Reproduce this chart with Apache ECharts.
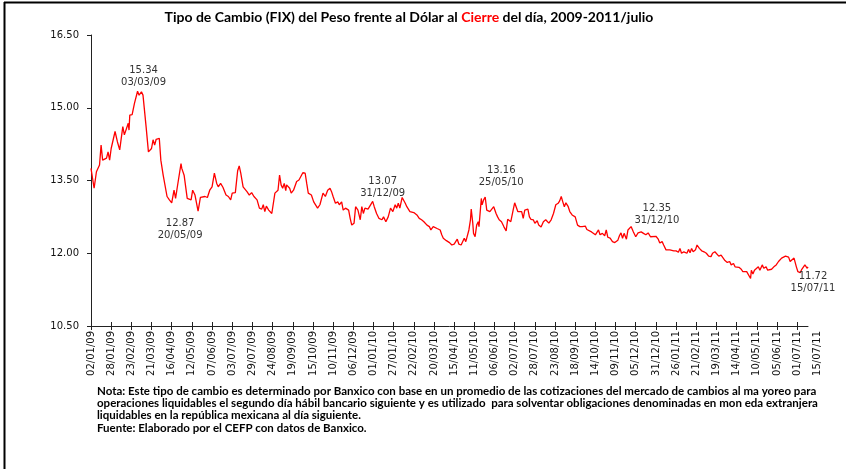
<!DOCTYPE html>
<html><head><meta charset="utf-8">
<script src="https://cdn.jsdelivr.net/npm/echarts@6/dist/echarts.min.js"></script>
<style>html,body{margin:0;padding:0;background:#fff}#c{width:850px;height:469px}</style>
</head><body><div id="c"></div>
<script>
// Day offsets are counted from 02/01/2009 (first day of the series)
const startDate = '02/01/09';
const dayOffsets = [0,4,7,11,13,15,20,22,24,26,31,34,37,41,43,48,49,50,53,56,60,62,65,67,71,74,78,80,82,84,88,90,93,95,98,101,104,107,109,111,116,117,120,124,129,131,134,138,141,147,150,153,156,159,162,164,167,170,174,177,180,182,186,189,
191,193,196,201,204,207,210,214,217,220,222,224,226,229,233,235,237,241,243,245,247,249,251,252,256,258,261,265,268,270,273,276,278,280,284,287,289,292,295,299,302,305,308,310,312,315,318,320,323,325,328,332,334,336,339,341,344,346,347,349,351,353,357,359,363,365,368,371,375,377,
380,383,386,389,392,394,396,398,401,403,405,407,411,413,416,420,423,426,429,433,436,438,441,443,446,450,452,454,458,462,465,468,470,472,474,477,479,481,483,485,487,489,490,492,493,495,497,499,500,503,504,506,508,510,512,514,516,519,522,524,526,529,532,535,537,539,541,544,546,548,550,552,555,557,559,563,565,
567,570,572,575,577,580,583,586,588,590,593,596,599,602,604,606,608,610,612,615,617,620,624,627,630,633,637,639,641,645,647,650,652,654,656,659,662,664,666,669,672,675,679,681,683,685,687,690,692,694,696,699,702,705,709,712,715,718,721,723,728,731,733,736,738,741,743,746,751,
754,757,759,761,764,768,770,772,774,776,779,781,784,787,790,793,796,799,801,804,806,809,812,814,817,820,823,825,828,830,832,835,838,840,842,845,847,850,851,853,855,857,860,862,865,867,870,872,874,877,880,883,886,888,890,892,895,897,899,901,903,906,909,911,914,916,918,920,923,924];
const rates = [13.75,13.34,13.68,13.82,14.23,13.92,13.96,14.09,13.92,14.16,14.51,14.30,14.13,14.61,14.44,14.68,14.54,14.85,14.86,15.09,15.34,15.26,15.33,15.26,14.61,14.09,14.16,14.34,14.23,14.35,14.37,13.92,13.61,13.61,13.17,13.10,13.04,13.30,13.13,13.34,13.85,13.75,13.61,13.13,13.10,13.30,13.20,12.87,13.15,13.17,13.15,13.30,13.37,13.65,13.44,13.37,13.44,13.36,13.20,13.17,13.10,13.24,13.25,13.70,
13.80,13.65,13.37,13.27,13.20,13.25,13.17,13.10,12.93,12.91,13.00,12.86,12.97,12.89,12.82,12.84,13.24,13.30,13.61,13.41,13.34,13.44,13.29,13.41,13.34,13.24,13.30,13.48,13.51,13.48,13.66,13.65,13.44,13.24,13.20,13.06,13.10,12.93,13.00,13.24,13.17,13.30,13.34,13.27,13.17,13.03,13.06,13.00,13.06,12.89,12.93,12.89,12.72,12.58,12.62,12.96,12.89,12.86,12.69,12.96,12.82,12.93,12.91,12.93,13.07,12.96,12.82,12.72,12.69,12.75,
12.65,12.75,12.93,12.86,13.00,12.93,13.03,12.93,13.15,13.17,13.03,12.96,12.86,12.82,12.84,12.79,12.72,12.69,12.65,12.58,12.55,12.48,12.55,12.54,12.51,12.48,12.38,12.31,12.26,12.22,12.17,12.19,12.24,12.29,12.19,12.17,12.15,12.31,12.24,12.27,12.48,12.69,12.91,12.62,12.41,12.34,12.58,12.65,12.55,13.13,13.00,13.10,13.16,12.89,12.93,12.86,12.89,12.96,12.82,12.75,12.69,12.65,12.55,12.46,12.70,12.69,12.65,12.89,13.04,13.08,12.86,12.82,12.86,12.72,12.89,12.91,12.75,
12.70,12.69,12.62,12.67,12.58,12.54,12.65,12.69,12.72,12.62,12.69,12.82,13.00,13.03,13.08,13.17,13.06,12.96,13.04,12.96,12.86,12.79,12.75,12.58,12.55,12.55,12.56,12.49,12.51,12.44,12.44,12.38,12.41,12.48,12.38,12.41,12.36,12.48,12.33,12.31,12.24,12.22,12.27,12.36,12.42,12.31,12.41,12.29,12.48,12.51,12.55,12.44,12.34,12.42,12.44,12.41,12.38,12.42,12.34,12.36,12.35,12.29,12.21,12.24,12.17,12.07,12.03,12.07,12.05,
12.05,12.02,12.10,12.00,12.03,12.00,12.08,12.01,12.10,12.03,12.07,12.17,12.10,12.05,12.03,12.00,11.94,11.93,12.00,12.03,12.00,11.94,11.96,11.92,11.85,11.81,11.83,11.76,11.79,11.72,11.76,11.71,11.67,11.62,11.65,11.62,11.59,11.48,11.65,11.57,11.65,11.62,11.72,11.65,11.76,11.69,11.72,11.65,11.65,11.67,11.72,11.76,11.83,11.79,11.90,11.86,11.94,11.90,11.92,11.83,11.87,11.90,11.72,11.62,11.60,11.67,11.64,11.76,11.69,11.72];
const tickLabels = ['02/01/09','28/01/09','23/02/09','21/03/09','16/04/09','12/05/09','07/06/09','03/07/09','29/07/09','24/08/09','19/09/09','15/10/09','10/11/09','06/12/09','01/01/10','27/01/10','22/02/10','20/03/10','15/04/10','11/05/10','06/06/10','02/07/10','28/07/10','23/08/10','18/09/10','14/10/10','09/11/10','05/12/10','31/12/10','26/01/11','21/02/11','19/03/11','14/04/11','10/05/11','05/06/11','01/07/11','15/07/11'];
const annotDays = [60,138,363,508,728,924];
const annotValues = [15.34,12.87,13.07,13.16,12.35,11.72];
const annotDates = ['03/03/09','20/05/09','31/12/09','25/05/10','31/12/10','15/07/11'];
const noteLines = [
 'Nota: Este tipo de cambio es determinado por Banxico con base en un promedio de las cotizaciones del mercado de cambios al ma yoreo para',
 'operaciones liquidables el segundo día hábil bancario siguiente y es utilizado  para solventar obligaciones denominadas en mon eda extranjera',
 'liquidables en la república mexicana al día siguiente.',
 'Fuente: Elaborado por el CEFP con datos de Banxico.'
];

const labelOffsets = [[6,-15],[-18,18],[10,-14],[16,-21],[1,-22],[5,16]];
const lastDay = 924, tickStep = 26;
const tickDays = tickLabels.slice(0, -1).map((_, i) => i * tickStep);

const chart = echarts.init(document.getElementById('c'), null, {renderer:'canvas'});
const axisFont = 'DejaVu Sans';
const lineData = dayOffsets.map((d,i)=>[d, rates[i]]);

const option = {
  animation:false,
  backgroundColor:'#fff',
  grid:[
    {left:91, right:42, top:35, bottom:143},
    {left:91, right:42, top:35, bottom:143}
  ],
  xAxis:[{
    type:'value', gridIndex:0, min:0, max:lastDay, interval:tickStep,
    axisLine:{lineStyle:{color:'#222', width:1}},
    axisTick:{show:true, length:4, customValues:tickDays, lineStyle:{color:'#222'}},
    splitLine:{show:false},
    axisLabel:{rotate:90, fontSize:10, fontFamily:axisFont, color:'#111', margin:5, customValues:tickDays,
      formatter:function(v){ return tickLabels[Math.round(v/tickStep)]||''; }}
  },{
    type:'value', gridIndex:1, min:0, max:lastDay, interval:tickStep, position:'bottom',
    axisLine:{show:false},
    axisTick:{show:true, inside:true, length:4, customValues:tickDays, lineStyle:{color:'#222'}},
    splitLine:{show:false}, axisLabel:{show:false}
  }],
  yAxis:[{
    type:'value', gridIndex:0, min:10.5, max:16.5, interval:1.5,
    axisLine:{show:true, lineStyle:{color:'#222', width:1}},
    axisTick:{show:true, length:4, lineStyle:{color:'#222'}},
    splitLine:{show:false},
    axisLabel:{fontSize:10, fontFamily:axisFont, color:'#111', margin:12, formatter:v=>v.toFixed(2)}
  },{
    type:'value', gridIndex:1, min:10.5, max:16.5, interval:1.5, show:false
  }],
  series:[{
    type:'line', xAxisIndex:0, yAxisIndex:0, data:lineData, showSymbol:false, symbol:'none',
    lineStyle:{color:'#ff0000', width:1.3}, silent:true,
    markPoint:{
      symbol:'circle', symbolSize:1, itemStyle:{color:'rgba(0,0,0,0)'},
      data: annotDays.map((d,i)=>({coord:[d, annotValues[i]], value:annotValues[i],
        label:{show:true, position:'inside', offset:labelOffsets[i], align:'center',
          color:'#333', fontSize:10, fontFamily:axisFont, lineHeight:12,
          formatter: annotValues[i].toFixed(2)+'\n'+annotDates[i]}}))
    }
  }],
  graphic:[
    {type:'line', shape:{x1:4.5,y1:2,x2:4.5,y2:469}, style:{stroke:'#000', lineWidth:2}},
    {type:'line', shape:{x1:4,y1:2.5,x2:846,y2:2.5}, style:{stroke:'#000', lineWidth:2}},
    {type:'text', x:817, y:331, rotation:Math.PI/2, style:{text:tickLabels[tickLabels.length-1], fill:'#111', fontFamily:axisFont, fontSize:10, align:'right', verticalAlign:'middle'}},
    {type:'text', x:409, y:17, style:{
      text:'{a|Tipo de Cambio (FIX) del Peso frente al Dólar al }{r|Cierre}{a| del día, 2009-2011/julio}',
      align:'center', verticalAlign:'middle',
      rich:{a:{fontFamily:'Lato', fontWeight:'bold', fontSize:14, fill:'#000'}, r:{fontFamily:'Lato', fontWeight:'bold', fontSize:14, fill:'#ff0000'}}
    }}
  ].concat(noteLines.map((t,i)=>({type:'text', x:97, y:391+i*12.3, style:{text:t, fill:'#000', fontFamily:'Lato', fontWeight:'bold', fontSize:11.5, verticalAlign:'middle'}})))
};
chart.setOption(option);
</script></body></html>
